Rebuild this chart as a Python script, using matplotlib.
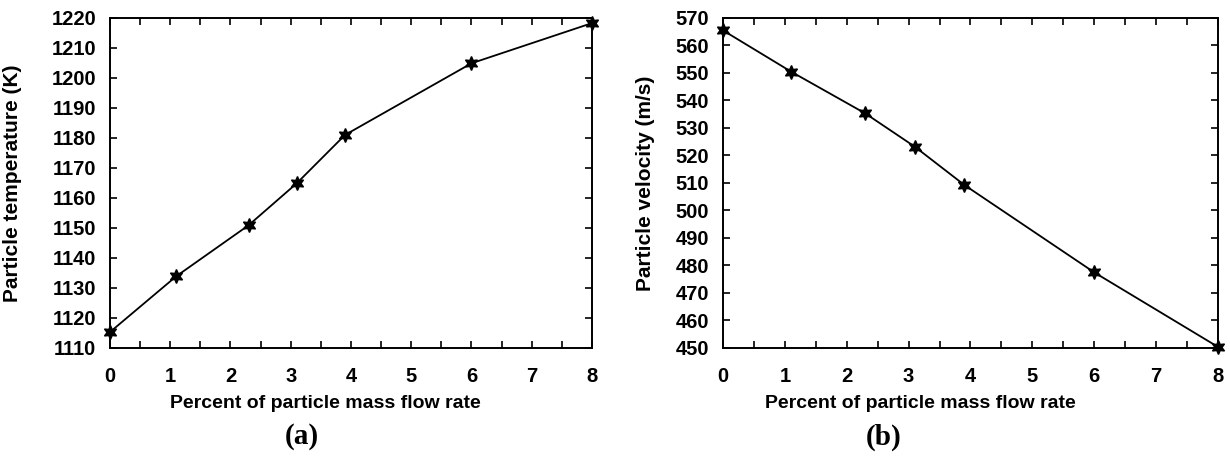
import matplotlib
matplotlib.use("Agg")
import matplotlib.pyplot as plt
from matplotlib.ticker import MultipleLocator

plt.rcParams.update({
    "font.family": ["Liberation Sans", "DejaVu Sans"],
    "font.weight": "bold",
    "font.size": 14,
    "axes.linewidth": 1.4,
})

# donnees
pourcent_debit = [0, 1.1, 2.3, 3.1, 3.9, 6, 8]
temperature_k = [1115.3, 1133.9, 1150.9, 1164.9, 1181.0, 1204.9, 1218.3]
vitesse_ms = [565.5, 550.5, 535.3, 523.2, 509.3, 477.5, 450.4]

etiquette_x = "Percent of particle mass flow rate"
etiquette_ya = "Particle temperature (K)"
etiquette_yb = "Particle velocity (m/s)"


def habiller(ax, ymin, ymax):
    ax.set_xlim(0, 8)
    ax.set_ylim(ymin, ymax)
    ax.xaxis.set_major_locator(MultipleLocator(1))
    ax.xaxis.set_minor_locator(MultipleLocator(0.5))
    ax.yaxis.set_major_locator(MultipleLocator(10))
    ax.tick_params(which="both", direction="in", top=True, right=True,
                   length=5, width=1.2, labelsize=14.5)
    ax.tick_params(axis="x", pad=14)
    ax.tick_params(axis="y", pad=10)
    for lab in ax.get_xticklabels() + ax.get_yticklabels():
        lab.set_fontweight("bold")


fig = plt.figure(figsize=(12.3, 4.58), dpi=100)
ax_a = fig.add_axes([0.0894, 0.2402, 0.3919, 0.7205])
ax_b = fig.add_axes([0.5878, 0.2402, 0.4024, 0.7205])

style = dict(color="black", linewidth=1.3, marker=(6, 1, 0), markersize=10,
             markerfacecolor="black", markeredgecolor="black", clip_on=False)

ax_a.plot(pourcent_debit, temperature_k, **style)
habiller(ax_a, 1110, 1220)
ax_a.set_xlabel(etiquette_x, fontweight="bold", fontsize=14)
ax_a.set_ylabel(etiquette_ya, fontweight="bold", fontsize=15)
ax_a.xaxis.set_label_coords(0.446, -0.142)
ax_a.yaxis.set_label_coords(-0.183, 0.5)

ax_b.plot(pourcent_debit, vitesse_ms, **style)
habiller(ax_b, 450, 570)
ax_b.set_xlabel(etiquette_x, fontweight="bold", fontsize=14)
ax_b.set_ylabel(etiquette_yb, fontweight="bold", fontsize=15)
ax_b.xaxis.set_label_coords(0.398, -0.142)
ax_b.yaxis.set_label_coords(-0.137, 0.5)

fig.text(0.2455, 0.046, "(a)", family="Liberation Serif", fontweight="bold",
         fontsize=21, ha="center", va="center")
fig.text(0.718, 0.046, "(b)", family="Liberation Serif", fontweight="bold",
         fontsize=21, ha="center", va="center")

fig.savefig("out.png", dpi=100)
